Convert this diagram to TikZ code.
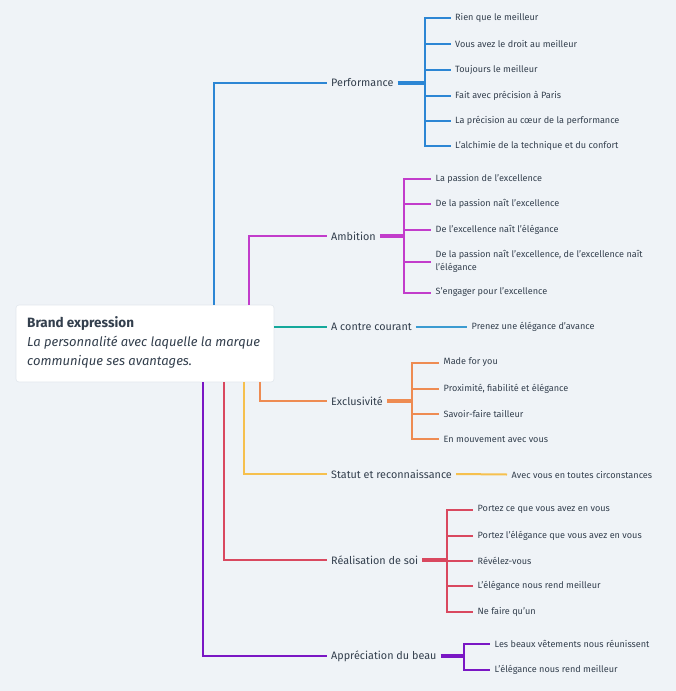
\documentclass[tikz,border=0pt]{standalone}
\usepackage{fontspec}
\setmainfont{Fira Sans}
\definecolor{bg}{HTML}{EFF3F7}
\definecolor{txt}{HTML}{333F4D}
\definecolor{cperf}{HTML}{2C86D4}
\definecolor{camb}{HTML}{C23CCB}
\definecolor{cteal}{HTML}{14A89B}
\definecolor{csky}{HTML}{3B9BD1}
\definecolor{cexc}{HTML}{EE8B52}
\definecolor{cstat}{HTML}{F6C04E}
\definecolor{creal}{HTML}{D9485F}
\definecolor{capp}{HTML}{7A16C4}
\definecolor{edge}{HTML}{E2E7ED}
\tikzset{
  br/.style={anchor=west, inner xsep=4pt, inner ysep=1pt, font=\fontsize{10.8}{12}\selectfont, text=txt},
  leaf/.style={anchor=west, inner xsep=4.5pt, inner ysep=1pt, font=\fontsize{9.1}{13}\selectfont, text=txt, align=left},
  conn/.style={line width=2pt},
  stemline/.style={line width=3.5pt},
  rootbox/.style={fill=white, draw=edge, line width=0.6pt, rounded corners=3pt, minimum width=258pt, minimum height=77pt, inner sep=0pt},
}
\begin{document}
\begin{tikzpicture}[x=1pt,y=-1pt]
\useasboundingbox[fill=bg] (0,0) rectangle (676,691);

% x positions of main connectors
\coordinate (xP) at (213.5,0);
\coordinate (xA) at (249,0);
\coordinate (xE) at (260,0);
\coordinate (xS) at (244,0);
\coordinate (xR) at (224,0);
\coordinate (xB) at (203,0);

% branch labels
\node[br] (perf) at (327,83) {Performance};
\node[br] (amb) at (327,236) {Ambition};
\node[br] (acc) at (327,327) {A contre courant};
\node[br] (exc) at (327,401) {Exclusivité};
\node[br] (stat) at (327,474) {Statut et reconnaissance};
\node[br] (real) at (327,560) {Réalisation de soi};
\node[br] (app) at (327,656) {Appréciation du beau};

% root
\node[rootbox] (root) at (145,343.5) {};
\node[anchor=west, inner sep=0pt, text=txt, font=\bfseries\fontsize{13.5}{15}\selectfont] (rtitle) at (27,324) {Brand expression};
\node[anchor=west, inner sep=0pt, text=txt, align=left, font=\itshape\fontsize{13}{19}\selectfont] (rdesc) at (27,352.5) {La personnalité avec laquelle la marque\\communique ses avantages.};

% main connectors
\draw[conn, cperf] (root.north -| xP) |- (perf.west);
\draw[conn, camb] (root.north -| xA) |- (amb.west);
\draw[conn, cteal] (root.east |- acc.west) -- (acc.west);
\draw[conn, cexc] (root.south -| xE) |- (exc.west);
\draw[conn, cstat] (root.south -| xS) |- (stat.west);
\draw[conn, creal] (root.south -| xR) |- (real.west);
\draw[conn, capp] (root.south -| xB) |- (app.west);

% Performance
\node[leaf] (p1) at (450.5,18) {Rien que le meilleur};
\node[leaf] (p2) at (450.5,44) {Vous avez le droit au meilleur};
\node[leaf] (p3) at (450.5,69.5) {Toujours le meilleur};
\node[leaf] (p4) at (450.5,95.5) {Fait avec précision à Paris};
\node[leaf] (p5) at (450.5,120.5) {La précision au cœur de la performance};
\node[leaf] (p6) at (450.5,146) {L'alchimie de la technique et du confort};
\coordinate (pj) at (425,83);
\draw[stemline, cperf] (perf.east) -- (pj);
\foreach \n in {p1,p2,p3,p4,p5,p6} \draw[conn, cperf] (pj) |- (\n.west);

% Ambition
\node[leaf] (a1) at (431,178.5) {La passion de l'excellence};
\node[leaf] (a2) at (431,204) {De la passion naît l'excellence};
\node[leaf] (a3) at (431,229.5) {De l'excellence naît l'élégance};
\node[leaf] (a4) at (431,261.5) {De la passion naît l'excellence, de l'excellence naît\\l'élégance};
\node[leaf] (a5) at (431,292.5) {S'engager pour l'excellence};
\coordinate (aj) at (404,236);
\draw[stemline, camb] (amb.east) -- (aj);
\foreach \n in {a1,a2,a3,a4,a5} \draw[conn, camb] (aj) |- (\n.west);

% A contre courant
\node[leaf] (c1) at (467,327) {Prenez une élégance d'avance};
\draw[conn, csky] (acc.east) -- (c1.west);

% Exclusivité
\node[leaf] (e1) at (439,362.5) {Made for you};
\node[leaf] (e2) at (439,388.5) {Proximité, fiabilité et élégance};
\node[leaf] (e3) at (439,414) {Savoir-faire tailleur};
\node[leaf] (e4) at (439,439) {En mouvement avec vous};
\coordinate (ej) at (412,401);
\draw[stemline, cexc] (exc.east) -- (ej);
\foreach \n in {e1,e2,e3,e4} \draw[conn, cexc] (ej) |- (\n.west);

% Statut
\node[leaf] (s1) at (507,474.5) {Avec vous en toutes circonstances};
\draw[conn, cstat] (stat.east) -- (s1.west);

% Réalisation
\node[leaf] (r1) at (473,509.5) {Portez ce que vous avez en vous};
\node[leaf] (r2) at (473,535.5) {Portez l'élégance que vous avez en vous};
\node[leaf] (r3) at (473,560.5) {Révélez-vous};
\node[leaf] (r4) at (473,586) {L'élégance nous rend meilleur};
\node[leaf] (r5) at (473,611.5) {Ne faire qu'un};
\coordinate (rj) at (447,560);
\draw[stemline, creal] (real.east) -- (rj);
\foreach \n in {r1,r2,r3,r4,r5} \draw[conn, creal] (rj) |- (\n.west);

% Appréciation
\node[leaf] (b1) at (490,643.5) {Les beaux vêtements nous réunissent};
\node[leaf] (b2) at (490,669.5) {L'élégance nous rend meilleur};
\coordinate (bj) at (464,656);
\draw[stemline, capp] (app.east) -- (bj);
\foreach \n in {b1,b2} \draw[conn, capp] (bj) |- (\n.west);
\end{tikzpicture}
\end{document}
